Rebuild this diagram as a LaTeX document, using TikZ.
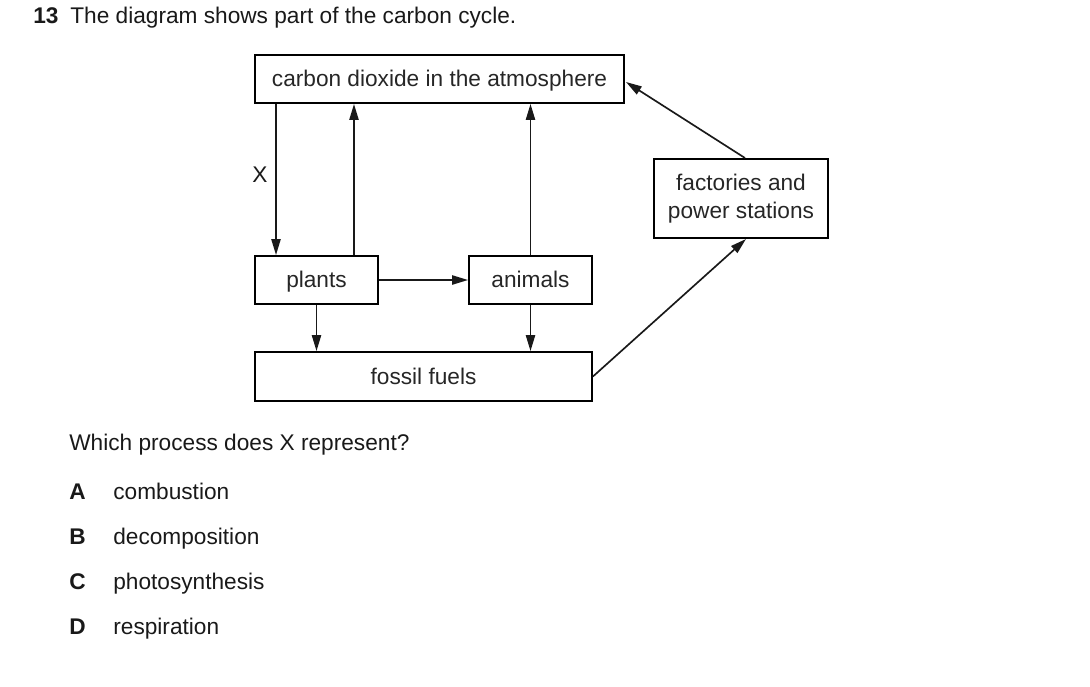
\documentclass[tikz,border=0pt]{standalone}
\usepackage{fontspec}
\setmainfont{Liberation Sans}
\usetikzlibrary{positioning,arrows.meta}

\begin{document}
\begin{tikzpicture}[x=0.02cm, y=-0.02cm, font=\fontsize{12.9}{16}\selectfont,
  box/.style={draw, line width=1.1pt, rectangle, inner sep=0pt, text=black!85, text height=0.88em, text depth=0pt},
  flow/.style={-{Triangle[length=9pt,width=5.2pt]}, line width=0.95pt, black!90},
  txt/.style={anchor=base west, inner sep=0pt, text=black!90}]
  \useasboundingbox (0,0) rectangle (1090,687);

  \node[txt] (num) at (33,23) {\textbf{13}};
  \node[txt] (title) at (70,23) {The diagram shows part of the carbon cycle.};

  \node[box, minimum width=7.38cm, minimum height=0.96cm] (CO2) at (439.5,79) {carbon dioxide in the atmosphere};
  \node[box, minimum width=2.46cm, minimum height=0.96cm] (P) at (316.5,280) {plants};
  \node[box, minimum width=2.46cm, minimum height=0.96cm] (A) at (530.5,280) {animals};
  \node[box, minimum width=6.74cm, minimum height=0.98cm] (FF) at (423.5,376.5) {fossil fuels};
  \node[box, minimum width=3.48cm, minimum height=1.58cm, align=center, text height=, text depth=] (FP) at (741,198.5) {factories and\\power stations};

  % arrows between boxes
  \draw[flow] (CO2.south -| 276,0) -- node[left=1pt, yshift=3pt] {X} (P.north -| 276,0);
  \draw[flow] (P.north -| 354,0) -- (CO2.south -| 354,0);
  \draw[flow] (A.north) -- (CO2.south -| A.north);
  \draw[flow] (P) -- (A);
  \draw[flow] (P) -- (P |- FF.north);
  \draw[flow] (A) -- (A |- FF.north);
  \draw[flow] (FF.east) -- (746,239);
  \draw[flow] (745,158) -- (626,82);

  \node[txt] (Q) at (69,450) {Which process does X represent?};
  \node[txt] (la) at (69,499) {\textbf{A}};
  \node[txt] (lb) at (69,544) {\textbf{B}};
  \node[txt] (lc) at (69,589) {\textbf{C}};
  \node[txt] (ld) at (69,634) {\textbf{D}};
  \node[txt] (oa) at (113,499) {combustion};
  \node[txt] (ob) at (113,544) {decomposition};
  \node[txt] (oc) at (113,589) {photosynthesis};
  \node[txt] (od) at (113,634) {respiration};
\end{tikzpicture}
\end{document}
